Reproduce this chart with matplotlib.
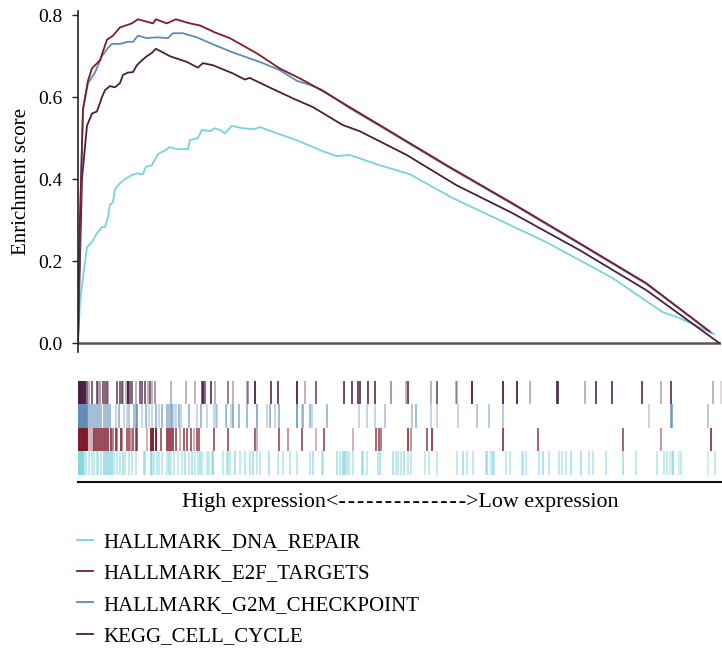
import numpy as np
import matplotlib
matplotlib.use('Agg')
import matplotlib.pyplot as plt
from matplotlib.colors import to_rgba
from matplotlib.lines import Line2D

plt.rcParams['font.family'] = ['Liberation Serif', 'DejaVu Serif']

n_genes = 6440

# running enrichment score (rank, ES)
dna_rank = [0, 20, 50, 90, 140, 190, 240, 270, 300, 320, 350, 370, 420, 470, 540, 590, 650, 680, 740,
            800, 890, 920, 990, 1100, 1120, 1200, 1240, 1320, 1370, 1420, 1470, 1540, 1650, 1770, 1820,
            1990, 2190, 2450, 2590, 2720, 3020, 3320, 3750, 4090, 4690, 5350, 5850, 6020, 6370]
dna_es = [0.0, 0.098, 0.16, 0.234, 0.246, 0.268, 0.283, 0.283, 0.307, 0.337, 0.344, 0.375, 0.39, 0.40,
          0.41, 0.414, 0.412, 0.43, 0.434, 0.461, 0.473, 0.478, 0.473, 0.473, 0.495, 0.50, 0.52, 0.517,
          0.524, 0.52, 0.512, 0.53, 0.524, 0.522, 0.527, 0.512, 0.495, 0.468, 0.456, 0.459, 0.434, 0.412,
          0.354, 0.315, 0.246, 0.159, 0.076, 0.061, 0.022]

e2f_rank = [0, 20, 50, 100, 140, 220, 290, 350, 420, 540, 600, 750, 780, 890, 980, 1120, 1220, 1370,
            1520, 1790, 2020, 2220, 2450, 3020, 3690, 4350, 5020, 5690, 6320]
e2f_es = [0.0, 0.30, 0.57, 0.64, 0.67, 0.69, 0.74, 0.75, 0.77, 0.78, 0.79, 0.78, 0.79, 0.78, 0.79, 0.78,
          0.775, 0.758, 0.744, 0.707, 0.67, 0.646, 0.615, 0.532, 0.434, 0.341, 0.244, 0.146, 0.029]

g2m_rank = [0, 20, 50, 100, 170, 240, 300, 340, 420, 500, 550, 600, 690, 790, 900, 950, 1050, 1190, 1370,
            1540, 1820, 2020, 2190, 2320, 2450, 2720, 3020, 3690, 4350, 5020, 5690, 6340]
g2m_es = [0.0, 0.30, 0.57, 0.634, 0.66, 0.70, 0.72, 0.73, 0.73, 0.735, 0.735, 0.75, 0.744, 0.746, 0.744,
          0.756, 0.756, 0.746, 0.727, 0.71, 0.686, 0.666, 0.64, 0.63, 0.617, 0.573, 0.530, 0.432, 0.339,
          0.242, 0.144, 0.025]

kegg_rank = [0, 40, 90, 140, 190, 240, 270, 320, 370, 420, 450, 500, 550, 590, 640, 690, 740, 780, 920,
             1090, 1200, 1250, 1350, 1550, 1670, 1720, 1770, 1950, 2170, 2350, 2650, 2820, 3290, 3790,
             4350, 5020, 5690, 6420]
kegg_es = [0.0, 0.40, 0.53, 0.56, 0.565, 0.60, 0.617, 0.627, 0.624, 0.634, 0.654, 0.66, 0.661, 0.678,
           0.69, 0.70, 0.708, 0.718, 0.70, 0.686, 0.672, 0.683, 0.678, 0.658, 0.643, 0.647, 0.641, 0.62,
           0.595, 0.576, 0.532, 0.517, 0.459, 0.385, 0.317, 0.227, 0.129, 0.0]

# hit positions in the ranked list and their shading
kegg_hits = [0, 10, 20, 30, 40, 50, 60, 70, 87, 110, 137, 187, 203, 220, 253, 270, 287, 303, 387, 420,
             437, 453, 483, 503, 520, 537, 580, 620, 637, 670, 703, 720, 737, 770, 930, 1080, 1170, 1237,
             1253, 1270, 1327, 1370, 1503, 1547, 1687, 1703, 1770, 1927, 2003, 2187, 2270, 2380, 2663,
             2737, 2803, 2820, 2903, 2970, 3130, 3280, 3303, 3527, 3593, 3780, 3793, 3937, 4253, 4393,
             4520, 4787, 4803, 5070, 5177, 5343, 5637, 5830, 5927, 6347, 6427]
kegg_alpha = [0.9, 0.9, 0.9, 0.9, 0.9, 0.9, 0.9, 0.9, 0.6, 0.3, 0.6, 0.6, 0.4, 0.4, 0.6, 0.6, 0.6, 0.3,
              0.6, 0.6, 0.6, 0.3, 0.3, 0.9, 0.6, 0.6, 0.3, 0.6, 0.6, 0.6, 0.3, 0.6, 0.3, 0.4, 0.3, 0.3,
              0.3, 0.6, 0.8, 0.6, 0.7, 0.3, 0.5, 0.3, 0.3, 0.4, 0.8, 0.7, 0.7, 0.8, 0.3, 0.6, 0.7, 0.7,
              0.7, 0.7, 0.7, 0.7, 0.4, 0.3, 0.7, 0.3, 0.6, 0.3, 0.3, 0.8, 0.8, 0.8, 0.3, 0.7, 0.7, 0.3,
              0.7, 0.7, 0.7, 0.3, 0.7, 0.3, 0.15]

g2m_hits = [0, 10, 20, 30, 40, 50, 60, 70, 80, 90, 110, 130, 150, 170, 190, 210, 230, 260, 280, 300, 320,
            377, 410, 460, 493, 510, 560, 577, 593, 643, 677, 710, 743, 777, 810, 843, 893, 910, 927, 943,
            960, 977, 1010, 1027, 1110, 1193, 1227, 1293, 1360, 1377, 1393, 1477, 1527, 1547, 1610, 1687,
            1787, 1887, 1920, 1970, 2013, 2187, 2193, 2237, 2253, 2320, 2337, 2487, 2813, 2887, 2970,
            3070, 3337, 3380, 3527, 3593, 3797, 3987, 4113, 4253, 5713, 5927, 5937, 6303]
g2m_alpha = [0.8, 0.8, 0.8, 0.8, 0.8, 0.8, 0.8, 0.8, 0.8, 0.8, 0.5, 0.5, 0.5, 0.5, 0.5, 0.5, 0.5, 0.5,
             0.5, 0.5, 0.5, 0.3, 0.5, 0.3, 0.3, 0.4, 0.5, 0.5, 0.7, 0.3, 0.5, 0.3, 0.3, 0.5, 0.3, 0.5,
             0.5, 0.5, 0.5, 0.5, 0.3, 0.3, 0.5, 0.3, 0.5, 0.3, 0.5, 0.3, 0.3, 0.3, 0.3, 0.5, 0.3, 0.6,
             0.5, 0.5, 0.6, 0.3, 0.5, 0.3, 0.5, 0.6, 0.3, 0.3, 0.5, 0.5, 0.3, 0.5, 0.3, 0.3, 0.3, 0.4,
             0.4, 0.5, 0.3, 0.3, 0.3, 0.4, 0.4, 0.4, 0.3, 0.6, 0.6, 0.4]

e2f_hits = [0, 10, 20, 30, 40, 50, 60, 70, 80, 90, 110, 130, 150, 160, 180, 200, 220, 240, 260, 280, 300,
            327, 353, 377, 393, 427, 443, 487, 510, 527, 553, 577, 593, 687, 733, 750, 777, 833, 893, 910,
            930, 950, 977, 1020, 1060, 1093, 1133, 1160, 1193, 1213, 1360, 1500, 1770, 1793, 2013, 2097,
            2237, 2380, 2463, 2753, 2980, 3013, 3027, 3303, 3327, 3493, 3537, 4253, 4597, 5453, 5827, 6330]
e2f_alpha = [0.95, 0.95, 0.95, 0.95, 0.95, 0.95, 0.95, 0.95, 0.95, 0.95, 0.3, 0.3, 0.3, 0.7, 0.7, 0.7,
             0.7, 0.7, 0.7, 0.7, 0.7, 0.7, 0.5, 0.7, 0.4, 0.7, 0.4, 0.6, 0.6, 0.4, 0.6, 0.6, 0.6, 0.3,
             0.85, 0.85, 0.85, 0.6, 0.7, 0.7, 0.7, 0.7, 0.6, 0.3, 0.6, 0.6, 0.6, 0.3, 0.6, 0.6, 0.6, 0.6,
             0.6, 0.3, 0.6, 0.4, 0.6, 0.3, 0.6, 0.3, 0.6, 0.6, 0.5, 0.7, 0.4, 0.6, 0.7, 0.7, 0.6, 0.6,
             0.4, 0.7]

dna_hits = [0, 10, 20, 30, 40, 50, 60, 80, 110, 143, 160, 187, 200, 227, 260, 280, 300, 320, 340, 360,
            393, 420, 453, 467, 510, 543, 577, 660, 670, 727, 740, 760, 793, 810, 843, 887, 913, 927, 960,
            1003, 1037, 1070, 1113, 1137, 1170, 1203, 1220, 1243, 1287, 1310, 1337, 1353, 1453, 1487,
            1503, 1520, 1570, 1620, 1670, 1720, 1753, 1787, 1820, 1913, 2003, 2047, 2120, 2187, 2320,
            2353, 2437, 2453, 2587, 2620, 2653, 2670, 2687, 2713, 2753, 2837, 2853, 2887, 3003, 3020,
            3147, 3180, 3203, 3227, 3260, 3303, 3327, 3470, 3513, 3593, 3787, 3853, 3893, 3947, 4080,
            4093, 4127, 4147, 4160, 4280, 4320, 4437, 4453, 4480, 4613, 4653, 4713, 4813, 4837, 4880,
            4927, 5027, 5113, 5153, 5277, 5447, 5580, 5793, 5860, 5893, 5920, 5937, 5947, 6013, 6030,
            6297, 6370]
dna_alpha = [0.7, 0.5, 0.7, 0.5, 0.7, 0.5, 0.5, 0.4, 0.4, 0.4, 0.4, 0.4, 0.4, 0.4, 0.6, 0.6, 0.6, 0.6,
             0.6, 0.4, 0.4, 0.4, 0.5, 0.4, 0.4, 0.4, 0.4, 0.5, 0.4, 0.6, 0.4, 0.4, 0.4, 0.4, 0.4, 0.4,
             0.5, 0.4, 0.4, 0.4, 0.4, 0.5, 0.4, 0.5, 0.4, 0.4, 0.5, 0.4, 0.4, 0.4, 0.4, 0.6, 0.4, 0.4,
             0.4, 0.4, 0.5, 0.4, 0.4, 0.4, 0.5, 0.4, 0.4, 0.5, 0.4, 0.4, 0.4, 0.4, 0.4, 0.5, 0.4, 0.4,
             0.5, 0.4, 0.6, 0.6, 0.4, 0.4, 0.4, 0.5, 0.4, 0.4, 0.4, 0.5, 0.5, 0.4, 0.4, 0.4, 0.5, 0.4,
             0.4, 0.4, 0.4, 0.4, 0.4, 0.5, 0.4, 0.4, 0.4, 0.5, 0.4, 0.5, 0.4, 0.4, 0.4, 0.4, 0.4, 0.4,
             0.4, 0.5, 0.4, 0.4, 0.4, 0.4, 0.5, 0.5, 0.4, 0.4, 0.4, 0.5, 0.4, 0.4, 0.4, 0.4, 0.3, 0.3,
             0.6, 0.3, 0.4, 0.3, 0.4]

labels = ['HALLMARK_DNA_REPAIR', 'HALLMARK_E2F_TARGETS', 'HALLMARK_G2M_CHECKPOINT', 'KEGG_CELL_CYCLE']
colors = ['#78d3dc', '#7e1c2e', '#5e8cb8', '#4a1f40']

fig = plt.figure(figsize=(7.22, 6.52), dpi=100)

# enrichment score curves
ax = fig.add_axes([0.108, 0.460, 0.891, 0.523])
curves = [(dna_rank, dna_es, 0), (kegg_rank, kegg_es, 3), (g2m_rank, g2m_es, 2), (e2f_rank, e2f_es, 1)]
for r, es, ci in curves:
    ax.plot(r, es, color=colors[ci], lw=1.3)
ax.axhline(0, color='#555555', lw=1.8, zorder=0)
ax.set_xlim(0, n_genes)
ax.set_ylim(-0.022, 0.81)
ax.set_yticks([0.0, 0.2, 0.4, 0.6, 0.8])
ax.set_yticklabels(['0.0', '0.2', '0.4', '0.6', '0.8'])
ax.set_xticks([])
for s in ['top', 'right', 'bottom']:
    ax.spines[s].set_visible(False)
ax.spines['left'].set_linewidth(1.2)
ax.spines['left'].set_color('#222222')
ax.tick_params(axis='y', length=4, width=1.0, labelsize=14, color='#222222', pad=7)
ax.set_ylabel('Enrichment score', fontsize=15, labelpad=5)

# hit rug
rug = fig.add_axes([0.108, 0.2607, 0.892, 0.155])
rows = [(dna_hits, dna_alpha, 0), (e2f_hits, e2f_alpha, 1), (g2m_hits, g2m_alpha, 2), (kegg_hits, kegg_alpha, 3)]
for i, (hits, alph, ci) in enumerate(rows):
    cols = [to_rgba(colors[ci], min(1.0, a * 1.15)) for a in alph]
    rug.vlines(hits, i, i + 1, colors=cols, lw=1.4)
rug.set_xlim(0, n_genes)
rug.set_ylim(-0.3, 4)
rug.set_xticks([])
rug.set_yticks([])
for s in ['top', 'right', 'left']:
    rug.spines[s].set_visible(False)
rug.spines['bottom'].set_linewidth(1.5)
rug.spines['bottom'].set_color('#111111')

dashes = '\u200a'.join(['-'] * 14)
fig.text(0.554, 0.230, 'High expression<' + dashes + '>Low expression',
         ha='center', va='center', fontsize=15.8)

handles = [Line2D([0], [0], color=c, lw=1.3) for c in colors]
fig.legend(handles, labels, loc='upper left', bbox_to_anchor=(0.095, 0.196), frameon=False,
           fontsize=15, handlelength=0.75, handletextpad=0.5, labelspacing=0.56, borderaxespad=0)

fig.savefig('out.png', dpi=100)
